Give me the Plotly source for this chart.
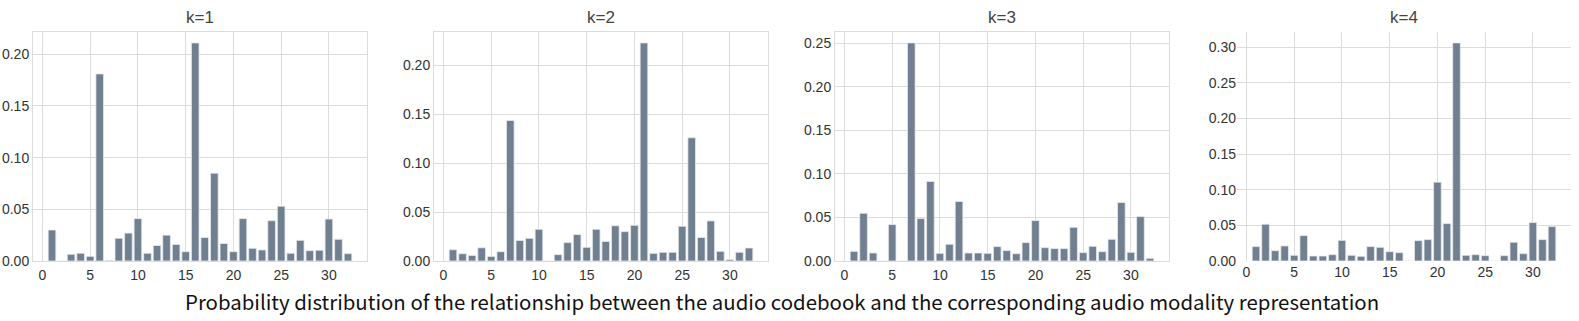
import plotly.graph_objects as go

codes = list(range(1, 33))
panel_titles = ["k=1", "k=2", "k=3", "k=4"]
k1 = [0.030, 0.0, 0.0065, 0.0075, 0.0045, 0.181, 0.0006, 0.022, 0.027, 0.041,
      0.0075, 0.015, 0.025, 0.016, 0.009, 0.211, 0.0227, 0.085, 0.0169, 0.009,
      0.041, 0.0123, 0.0107, 0.039, 0.053, 0.0075, 0.020, 0.010, 0.0104, 0.0406,
      0.021, 0.0071]
k2 = [0.0115, 0.0074, 0.0057, 0.0135, 0.0047, 0.0095, 0.1437, 0.021, 0.0232, 0.0324,
      0.0, 0.0065, 0.0188, 0.027, 0.014, 0.0324, 0.020, 0.036, 0.030, 0.0365,
      0.223, 0.0078, 0.0089, 0.0089, 0.0355, 0.126, 0.024, 0.041, 0.0099, 0.0014,
      0.0089, 0.0133]
k3 = [0.0111, 0.0548, 0.0092, 0.0, 0.0418, 0.0, 0.2504, 0.0487, 0.0913, 0.0088,
      0.0192, 0.0683, 0.0092, 0.0092, 0.0088, 0.0165, 0.0119, 0.0084, 0.0211, 0.0464,
      0.0153, 0.0142, 0.0142, 0.0387, 0.0096, 0.0169, 0.0107, 0.0249, 0.0671, 0.010,
      0.051, 0.0031]
k4 = [0.0202, 0.0516, 0.0145, 0.0211, 0.008, 0.0356, 0.007, 0.007, 0.0089, 0.029,
      0.008, 0.0066, 0.0202, 0.0192, 0.0131, 0.0117, 0.0, 0.0286, 0.030, 0.1106,
      0.0525, 0.306, 0.008, 0.0089, 0.0075, 0.0, 0.0075, 0.0263, 0.0103, 0.0539,
      0.030, 0.0483]
x_ticks = [0, 5, 10, 15, 20, 25, 30]
suptitle = ("Probability distribution of the relationship between the audio codebook "
            "and the corresponding audio modality representation")

series = [k1, k2, k3, k4]
W, H = 1579, 321
px_left = [33, 434, 835, 1237]
px_width = 334
y_top, y_bot = 32, 261
framed = [True, True, True, False]

fig = go.Figure()
layout = dict(
    width=W, height=H, margin=dict(l=0, r=0, t=0, b=0, autoexpand=False),
    paper_bgcolor="white", plot_bgcolor="white", showlegend=False,
    bargap=0.2, annotations=[],
)
grid = "#dcdcdc"
tickfont = dict(family="Liberation Sans, Arial, sans-serif", size=14, color="#333333")
for i, (vals, title) in enumerate(zip(series, panel_titles)):
    n = "" if i == 0 else str(i + 1)
    fig.add_trace(go.Bar(
        x=codes, y=vals, width=0.8, xaxis="x" + n, yaxis="y" + n,
        marker=dict(color="#708090", line=dict(color="#e6eaee", width=0.8)),
    ))
    x0 = px_left[i] / W
    x1 = (px_left[i] + px_width) / W
    ymax = max(vals) * 1.05
    layout["xaxis" + n] = dict(
        domain=[x0, x1], anchor="y" + n, range=[-0.99, 33.99], automargin=False,
        tickvals=x_ticks, showgrid=True, gridcolor=grid, gridwidth=1,
        zeroline=False, showline=framed[i], mirror=framed[i], linecolor=grid,
        linewidth=1, ticks="", tickfont=tickfont, ticklabelstandoff=1,
    )
    layout["yaxis" + n] = dict(
        domain=[1 - y_bot / H, 1 - y_top / H], anchor="x" + n, range=[0, ymax],
        automargin=False,
        dtick=0.05, tickformat=".2f", showgrid=True, gridcolor=grid, gridwidth=1,
        zeroline=False, showline=framed[i], mirror=framed[i], linecolor=grid,
        linewidth=1, ticks="", tickfont=tickfont, ticklabelstandoff=0,
    )
    layout["annotations"].append(dict(
        text=title, x=(x0 + x1) / 2, y=1 - 17.5 / H, xref="paper", yref="paper",
        xanchor="center", yanchor="middle", showarrow=False,
        font=dict(family="Liberation Sans, Arial, sans-serif", size=17, color="#444444"),
    ))
layout["annotations"].append(dict(
    text=suptitle, x=(187 + 1377) / 2 / W, y=1 - 301 / H,
    xref="paper", yref="paper",
    xanchor="center", yanchor="middle", showarrow=False,
    font=dict(family="Noto Sans CJK SC, Noto Sans, sans-serif", size=20.4, color="#111111"),
))
fig.update_layout(**layout)
fig.write_html(
    "out.html",
    config={"displayModeBar": False},
    post_script="document.body.style.margin='0';document.body.style.overflow='hidden';",
)
